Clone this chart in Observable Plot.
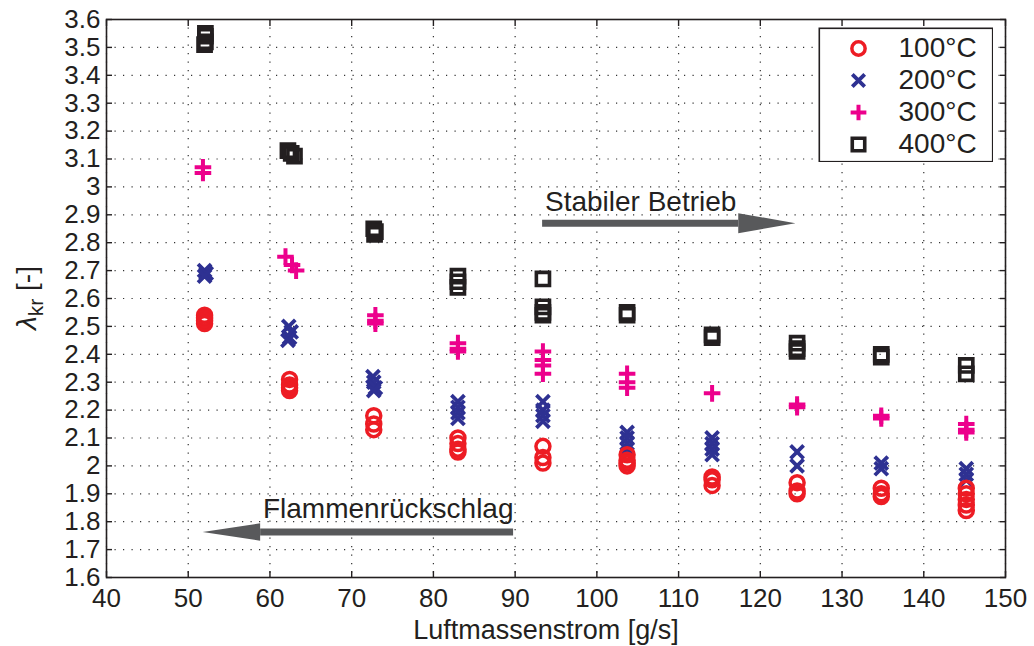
<!DOCTYPE html>
<html>
<head>
<meta charset="utf-8">
<script src="https://cdn.jsdelivr.net/npm/d3@7"></script>
<script src="https://cdn.jsdelivr.net/npm/@observablehq/plot@0.6"></script>
<style>
  body { margin: 0; background: #fff; }
  #wrap { position: relative; width: 1034px; height: 646px; }
  #legend { position: absolute; left: 818px; top: 27px; }
</style>
</head>
<body>
<div id="wrap"><div id="chart"></div><div id="legend"></div></div>
<script>
// ---------- data ----------
const seriesLabels = ["100°C", "200°C", "300°C", "400°C"];

const massFlow100 = [52,52,52,52, 62.4,62.4,62.4,62.4, 72.7,72.7,72.7, 83,83,83,83, 93.4,93.4,93.4, 103.7,103.7,103.7,103.7, 114.1,114.1,114.1, 124.5,124.5,124.5, 134.8,134.8,134.8, 145.2,145.2,145.2,145.2,145.2];
const lambda100   = [2.54,2.53,2.52,2.51, 2.31,2.29,2.28,2.27, 2.18,2.15,2.13, 2.10,2.08,2.06,2.05, 2.07,2.03,2.01, 2.04,2.02,2.01,2.00, 1.96,1.95,1.93, 1.94,1.91,1.90, 1.92,1.90,1.89, 1.92,1.90,1.88,1.86,1.84];

const massFlow200 = [52,52.2,52, 62.3,62.6,62.4,62.2, 72.6,72.7,72.9,72.7, 83,83,83,83, 93.4,93.4,93.4,93.4, 103.7,103.7,103.7,103.7, 114.1,114.1,114.1,114.1, 124.5,124.5, 134.8,134.8, 145.2,145.2,145.2];
const lambda200   = [2.70,2.69,2.68, 2.50,2.48,2.46,2.45, 2.32,2.30,2.28,2.27, 2.23,2.21,2.19,2.17, 2.23,2.20,2.18,2.16, 2.12,2.10,2.08,2.06, 2.10,2.08,2.06,2.04, 2.05,2.00, 2.01,1.99, 1.99,1.97,1.95];

const massFlow300 = [51.8,51.8, 61.9,62.7,63.2, 72.9,72.9,72.9, 83,83,83, 93.4,93.4,93.4,93.4, 103.7,103.7,103.7, 114.1, 124.5,124.5, 134.8,134.8, 145.2,145.2,145.2];
const lambda300   = [3.07,3.05, 2.75,2.72,2.70, 2.54,2.52,2.51, 2.44,2.42,2.41, 2.41,2.38,2.36,2.33, 2.33,2.30,2.28, 2.26, 2.22,2.21, 2.18,2.17, 2.15,2.13,2.12];

const massFlow400 = [52.1,52.1,52.1,52.0, 62.2,62.6,63.0, 72.7,72.9,72.8, 83,83,83, 93.4,93.4,93.4,93.4, 103.7,103.7, 114.1,114.1, 124.5,124.5,124.5, 134.8,134.8, 145.2,145.2];
const lambda400   = [3.55,3.54,3.52,3.51, 3.13,3.12,3.11, 2.85,2.84,2.83, 2.68,2.66,2.64, 2.67,2.57,2.55,2.54, 2.55,2.54, 2.47,2.46, 2.44,2.42,2.41, 2.40,2.39, 2.36,2.33];

const xTicks = [40,50,60,70,80,90,100,110,120,130,140,150];
const yTicks = [1.6,1.7,1.8,1.9,2,2.1,2.2,2.3,2.4,2.5,2.6,2.7,2.8,2.9,3,3.1,3.2,3.3,3.4,3.5,3.6];

const xTitle = "Luftmassenstrom [g/s]";

// annotation arrows
const arrowLabels = ["Stabiler Betrieb", "Flammenrückschlag"];
const arrowTailX  = [93.3, 89.75];
const arrowBaseX  = [117.3, 58.8];
const arrowTipX   = [124.3, 51.76];
const arrowY      = [2.870, 1.763];
const arrowHalfH  = [0.036, 0.031];
const labelX      = [93.65, 89.8];
const labelY      = [2.947, 1.846];
const labelAnchor = ["start", "end"];

// ---------- styles ----------
const FONT = '"Liberation Sans", Arial, Helvetica, sans-serif';
const INK = "#231f20";
const ARROW = "#58595b";
const seriesStyle = [
  {symbol: "circle", r: 7.0, color: "#ed1c24", sw: 3.5},
  {symbol: "times",  r: 6.0, color: "#2e3192", sw: 3.8},
  {symbol: "plus",   r: 5.4, color: "#ec008c", sw: 4},
  {symbol: "square", r: 7.4, color: INK,       sw: 3.6}
];
const seriesX = [massFlow100, massFlow200, massFlow300, massFlow400];
const seriesY = [lambda100, lambda200, lambda300, lambda400];

const shafts = arrowLabels.map((l, i) => ({x1: arrowTailX[i], x2: arrowBaseX[i], y: arrowY[i]}));
const heads = arrowLabels.flatMap((l, i) => [
  {i, x: arrowTipX[i], y: arrowY[i]},
  {i, x: arrowBaseX[i], y: arrowY[i] + arrowHalfH[i]},
  {i, x: arrowBaseX[i], y: arrowY[i] - arrowHalfH[i]}
]);
const labels = arrowLabels.map((l, i) => ({text: l, x: labelX[i], y: labelY[i], anchor: labelAnchor[i]}));
const labelMarks = ["start", "end"].map(a => Plot.text(labels.filter(d => d.anchor === a), {
  x: "x", y: "y", text: "text", textAnchor: a, fontSize: 28, fill: INK, lineAnchor: "middle"
}));

const dotOrder = [3, 2, 1, 0];
const dotMarks = dotOrder.map(k => Plot.dot(seriesY[k], {
  x: seriesX[k], y: seriesY[k],
  symbol: seriesStyle[k].symbol, r: seriesStyle[k].r,
  stroke: seriesStyle[k].color, strokeWidth: seriesStyle[k].sw, fill: "none"
}));

const gridStyle = {stroke: "#333", strokeOpacity: 1, strokeWidth: 1.2, strokeDasharray: "1.2,7.3"};
const blank = () => "";

const chart = Plot.plot({
  width: 1034, height: 646,
  marginLeft: 106, marginRight: 29, marginTop: 19, marginBottom: 69,
  style: {fontFamily: FONT, fontSize: "26px", color: INK, background: "white"},
  x: {domain: [40, 150]},
  y: {domain: [1.6, 3.6]},
  marks: [
    Plot.gridX(xTicks, gridStyle),
    Plot.gridY(yTicks, gridStyle),
    Plot.axisX(xTicks, {anchor: "bottom", tickSize: 0, tickPadding: 11, label: null, fontSize: 26}),
    Plot.axisY(yTicks, {anchor: "left", tickSize: 0, tickPadding: 6, label: null, fontSize: 26, tickFormat: d => String(d)}),
    Plot.axisX(xTicks, {anchor: "bottom", tickSize: -6, tickFormat: blank, label: null, stroke: INK, strokeWidth: 1.4}),
    Plot.axisX(xTicks, {anchor: "top", tickSize: -6, tickFormat: blank, label: null, stroke: INK, strokeWidth: 1.4}),
    Plot.axisY(yTicks, {anchor: "left", tickSize: -6, tickFormat: blank, label: null, stroke: INK, strokeWidth: 1.4}),
    Plot.axisY(yTicks, {anchor: "right", tickSize: -6, tickFormat: blank, label: null, stroke: INK, strokeWidth: 1.4}),
    Plot.link(shafts, {x1: "x1", x2: "x2", y1: "y", y2: "y", stroke: ARROW, strokeWidth: 7}),
    Plot.line(heads, {x: "x", y: "y", z: "i", fill: ARROW, stroke: "none"}),
    ...labelMarks,
    ...dotMarks,
    Plot.frame({stroke: INK, strokeWidth: 1.6})
  ]
});
document.getElementById("chart").appendChild(chart);

// axis titles (with subscript)
const svg = d3.select(chart.tagName.toLowerCase() === "svg" ? chart : chart.querySelector("svg"));
svg.append("text")
  .attr("x", 546).attr("y", 639)
  .attr("text-anchor", "middle")
  .attr("font-family", FONT).attr("font-size", 27).attr("fill", INK)
  .text(xTitle);
const yt = svg.append("text")
  .attr("transform", "translate(36,298) rotate(-90)")
  .attr("text-anchor", "middle")
  .attr("font-family", FONT).attr("font-size", 28).attr("fill", INK);
yt.append("tspan").attr("font-style", "italic").text("λ");
yt.append("tspan").attr("dy", 7).attr("font-size", 21).text("kr");
yt.append("tspan").attr("dy", -7).text(" [-]");

// legend
const legend = Plot.plot({
  width: 175, height: 135, margin: 0,
  style: {fontFamily: FONT, background: "white", color: INK},
  x: {domain: [0, 1], axis: null},
  y: {type: "point", domain: seriesLabels, range: [20, 118], padding: 0, axis: null},
  marks: [
    Plot.frame({stroke: INK, strokeWidth: 1.6, inset: 0.8, fill: "white"}),
    ...seriesLabels.map((lab, k) => Plot.dot([lab], {
      y: d => d, frameAnchor: "left", dx: 40,
      symbol: seriesStyle[k].symbol, r: seriesStyle[k].r * 0.95,
      stroke: seriesStyle[k].color, strokeWidth: seriesStyle[k].sw, fill: "none"
    })),
    Plot.text(seriesLabels, {y: d => d, text: d => d, frameAnchor: "left", dx: 80, textAnchor: "start", fontSize: 28, fill: INK})
  ]
});
document.getElementById("legend").appendChild(legend);
</script>
</body>
</html>
